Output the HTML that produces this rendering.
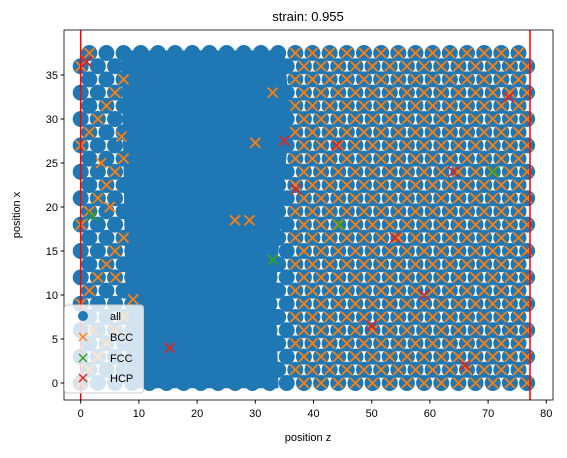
<!DOCTYPE html>
<html><head><meta charset="utf-8"><style>
body{margin:0;background:#fff}
svg text{font-family:"Liberation Sans","DejaVu Sans",sans-serif;fill:#000}
</style></head><body>
<svg id="chart" width="567" height="453">
<g id="plot"></g>
<g id="overlay"></g>
<text x="308" y="21" text-anchor="middle" font-size="13">strain: 0.955</text>
<text x="308" y="441" text-anchor="middle" font-size="11">position z</text>
<text x="20" y="215" text-anchor="middle" font-size="11" transform="rotate(-90 20 215)">position x</text>
<g>
<rect x="64.5" y="305" width="79" height="88" rx="3" fill="#fff" fill-opacity="0.8" stroke="#ccc"/>
<circle cx="83" cy="316" r="5" fill="#1f77b4"/>
<text x="110" y="320" font-size="11">all</text>
<path d="M79 333l8 8M79 341l8-8" stroke="#ff7f0e" stroke-width="1.4"/>
<text x="110" y="341" font-size="11">BCC</text>
<path d="M79 354l8 8M79 362l8-8" stroke="#2ca02c" stroke-width="1.4"/>
<text x="110" y="362" font-size="11">FCC</text>
<path d="M79 374l8 8M79 382l8-8" stroke="#d62728" stroke-width="1.4"/>
<text x="110" y="382" font-size="11">HCP</text>
</g>
</svg>
<script>
const xTicks=[0,10,20,30,40,50,60,70,80];
const yTicks=[0,5,10,15,20,25,30,35];
const xRows=[0,1.5,3,4.5,6,7.5,9,10.5,12,13.5,15,16.5,18,19.5,21,22.5,24,25.5,27,28.5,30,31.5,33,34.5,36,37.5];
const zCols=[0,2.95,5.9,8.85,11.8,14.75,17.7,20.65,23.6,26.55,29.5,32.45,35.4,38.35,41.3,44.25,47.2,50.15,53.1,56.05,59,61.95,64.9,67.85,70.8,73.75,76.7];
const hcpZ=[15.3,35,37,54,59,66,73.5,50,44,1,64];
const hcpX=[4,27.5,22,16.5,10,2,32.5,6.5,27,36.5,24];
const fccZ=[71,44.5,33,2];
const fccX=[24,18,14,19];
const bccExtraZ=[9,30,29,26.5,33,33,3.5,6,7,2,5];
const bccExtraX=[9.5,27.3,18.5,18.5,33,14,25,12,28,6,20];
const redLines=[0,77.2];
const L=64,R=553,T=30,B=400;
const sx=v=>80.7+v*5.82, sy=v=>383-v*8.8;
const NS="http://www.w3.org/2000/svg";
const svg=document.getElementById('chart'), g=document.getElementById('plot'), ov=document.getElementById('overlay');
function mk(t,a,p){const e=document.createElementNS(NS,t);for(const k in a)e.setAttribute(k,a[k]);(p||g).appendChild(e);return e;}
const am=mk('path',{d:`M${sx(7)} ${sy(37.8)} L${sx(35)} ${sy(37.8)} L${sx(36)} ${sy(30)} L${sx(34.5)} ${sy(20)} L${sx(33.5)} ${sy(10)} L${sx(34)} ${sy(-0.6)} L${sx(8)} ${sy(-0.6)} Z`,fill:'#1f77b4'});


const pts=[];
xRows.forEach((x,i)=>zCols.forEach(z=>{const zz=z+(i%2?1.475:0);if(zz<=77.5)pts.push([zz,x]);}));
pts.forEach(p=>{const c=mk('circle',{cx:sx(p[0]),cy:sy(p[1]),r:8,fill:'#1f77b4'});

});
function cross(z,x,col,name){const X=sx(z),Y=sy(x),s=5;
const e=mk('path',{d:`M${X-s} ${Y-s}L${X+s} ${Y+s}M${X-s} ${Y+s}L${X+s} ${Y-s}`,stroke:col,'stroke-width':1.8,fill:'none'});

}
pts.forEach((p,i)=>{if(p[0]>36.5||(p[0]<8&&i%3==0))cross(p[0],p[1],'#ff7f0e','bcc-point');});
bccExtraZ.forEach((z,i)=>cross(z,bccExtraX[i],'#ff7f0e','bcc-point'));
fccZ.forEach((z,i)=>cross(z,fccX[i],'#2ca02c','fcc-point'));
hcpZ.forEach((z,i)=>cross(z,hcpX[i],'#d62728','hcp-point'));
redLines.forEach(z=>{const l=mk('line',{x1:sx(z),x2:sx(z),y1:T,y2:B,stroke:'#ff0000','stroke-width':1.5});

});
mk('rect',{x:0,y:0,width:567,height:T,fill:'#fff'},ov);
mk('rect',{x:0,y:B,width:567,height:53,fill:'#fff'},ov);
mk('rect',{x:0,y:0,width:L,height:453,fill:'#fff'},ov);
mk('rect',{x:R,y:0,width:15,height:453,fill:'#fff'},ov);
const fr=mk('rect',{x:L,y:T,width:R-L,height:B-T,fill:'none',stroke:'#000','stroke-width':0.8},ov);


xTicks.forEach(v=>{mk('line',{x1:sx(v),x2:sx(v),y1:B,y2:B+3.5,stroke:'#000'},ov);
const t=mk('text',{x:sx(v),y:B+17,'text-anchor':'middle','font-size':11},ov);t.textContent=v;

});
yTicks.forEach(v=>{mk('line',{x1:L-3.5,x2:L,y1:sy(v),y2:sy(v),stroke:'#000'},ov);
const t=mk('text',{x:L-6,y:sy(v)+4,'text-anchor':'end','font-size':11},ov);t.textContent=v;

});
</script>
</body></html>
